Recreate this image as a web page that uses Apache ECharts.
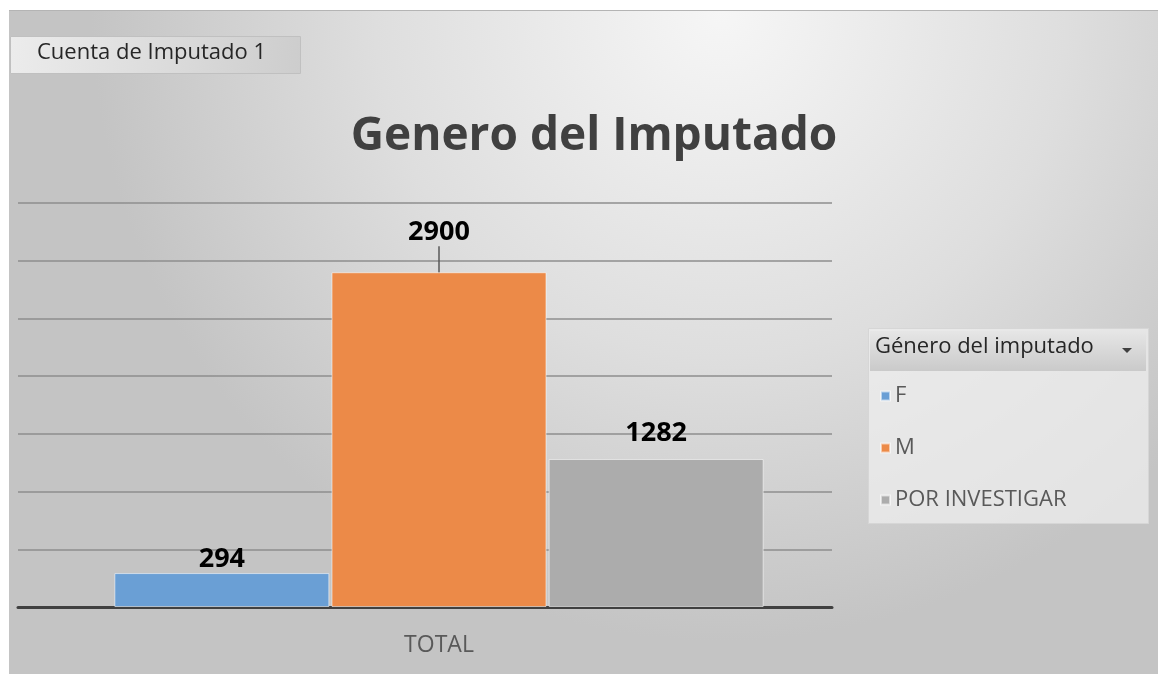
<!DOCTYPE html>
<html>
<head>
<meta charset="utf-8">
<script src="https://cdn.jsdelivr.net/npm/echarts@6/dist/echarts.min.js"></script>
<style>
  html, body { margin: 0; padding: 0; background: #fff; }
  #chart { position: absolute; left: 9px; top: 10px; width: 1149px; height: 664px; border-top: 1px solid #b4b4b4; box-sizing: border-box; }
</style>
</head>
<body>
<div id="chart"></div>
<script>
// datos del grafico
const categorias = ['TOTAL']
const seriesNombres = ['F', 'M', 'POR INVESTIGAR']
const valores = [294, 2900, 1282]
const colores = ['#6a9fd5', '#ec8a48', '#acacac']

const chart = echarts.init(document.getElementById('chart'))
const fuente = '"Open Sans", "Noto Sans", sans-serif'

// distancia de la etiqueta sobre cada barra
const distEtiqueta = [0, 4, 12]

const getSeries = () => seriesNombres.map((nombre, i) => ({
  name: nombre,
  type: 'bar',
  xAxisIndex: 1,
  yAxisIndex: 1,
  barWidth: 215,
  barGap: '1%',
  data: [valores[i]],
  itemStyle: {
    color: colores[i],
    borderColor: 'rgba(255,255,255,0.55)',
    borderWidth: 1
  },
  label: {
    show: true,
    position: 'top',
    distance: distEtiqueta[i],
    color: '#000',
    fontFamily: fuente,
    fontWeight: 'bold',
    fontSize: 27
  },
  // la etiqueta de M va mas arriba con linea guia
  labelLayout: i === 1 ? { dy: -22 } : null,
  labelLine: i === 1 ? { show: true, lineStyle: { color: '#595959', width: 1.5 } } : { show: false }
}))

const option = {
  backgroundColor: {
    type: 'radial', x: 0.62, y: 0.0, r: 0.95,
    colorStops: [
      { offset: 0, color: '#f6f6f6' },
      { offset: 0.55, color: '#dedede' },
      { offset: 1, color: '#c4c4c4' }
    ]
  },
  animation: false,
  title: {
    text: 'Genero del Imputado',
    left: 580,
    top: 98,
    textAlign: 'center',
    textStyle: { fontFamily: fuente, fontWeight: 'bold', fontSize: 46, color: '#404040' }
  },
  legend: {
    orient: 'vertical',
    left: 866,
    top: 369,
    icon: 'rect',
    itemWidth: 9,
    itemHeight: 9,
    itemGap: 30,
    data: seriesNombres,
    textStyle: { fontFamily: fuente, fontSize: 22, color: '#595959', lineHeight: 22 }
  },
  grid: [
    { left: 9, right: 326, top: 192, bottom: 67 },
    { left: 37, right: 326, top: 192, bottom: 67 }
  ],
  xAxis: [
    {
      type: 'category', gridIndex: 0, data: categorias,
      axisLine: { lineStyle: { color: '#404040', width: 3 } },
      axisTick: { show: false }, axisLabel: { show: false }
    },
    {
      type: 'category', gridIndex: 1, data: categorias,
      axisLine: { show: false }, axisTick: { show: false },
      axisLabel: { margin: 27, fontFamily: fuente, fontSize: 23, color: '#595959' }
    }
  ],
  yAxis: [
    {
      type: 'value', gridIndex: 0, min: 0, max: 3500, interval: 500,
      axisLabel: { show: false }, axisLine: { show: false }, axisTick: { show: false },
      splitLine: { lineStyle: { color: '#8e8e8e', width: 1.5 } }
    },
    {
      type: 'value', gridIndex: 1, min: 0, max: 3500, interval: 500,
      show: false
    }
  ],
  graphic: [
    // boton de campo
    {
      type: 'rect', left: 1, top: 25, z: 10,
      shape: { width: 290, height: 37 },
      style: {
        fill: { type: 'linear', x: 0, y: 0, x2: 1, y2: 1, colorStops: [
          { offset: 0, color: '#ececec' }, { offset: 1, color: '#cdcdcd' }] },
        stroke: '#c0c0c0', lineWidth: 1
      }
    },
    {
      type: 'text', left: 28, top: 31, z: 11,
      style: { text: 'Cuenta de Imputado 1', font: '22px ' + fuente, fill: '#262626' }
    },
    // caja de leyenda
    {
      type: 'rect', left: 859, top: 317, z: 1,
      shape: { width: 280, height: 195 },
      style: { fill: 'rgba(238,238,238,0.75)', stroke: '#d6d6d6', lineWidth: 1 }
    },
    {
      type: 'rect', left: 861, top: 320, z: 2,
      shape: { width: 276, height: 40 },
      style: {
        fill: { type: 'linear', x: 0, y: 0, x2: 0, y2: 1, colorStops: [
          { offset: 0, color: '#e6e6e6' }, { offset: 1, color: '#cacaca' }] }
      }
    },
    {
      type: 'text', left: 866, top: 325, z: 3,
      style: { text: 'Género del imputado', font: '22px ' + fuente, fill: '#262626' }
    },
    {
      type: 'polygon', z: 3,
      shape: { points: [[1113, 337], [1123, 337], [1118, 342]] },
      style: { fill: '#404040' }
    }
  ],
  series: getSeries()
}

chart.setOption(option)
</script>
</body>
</html>
